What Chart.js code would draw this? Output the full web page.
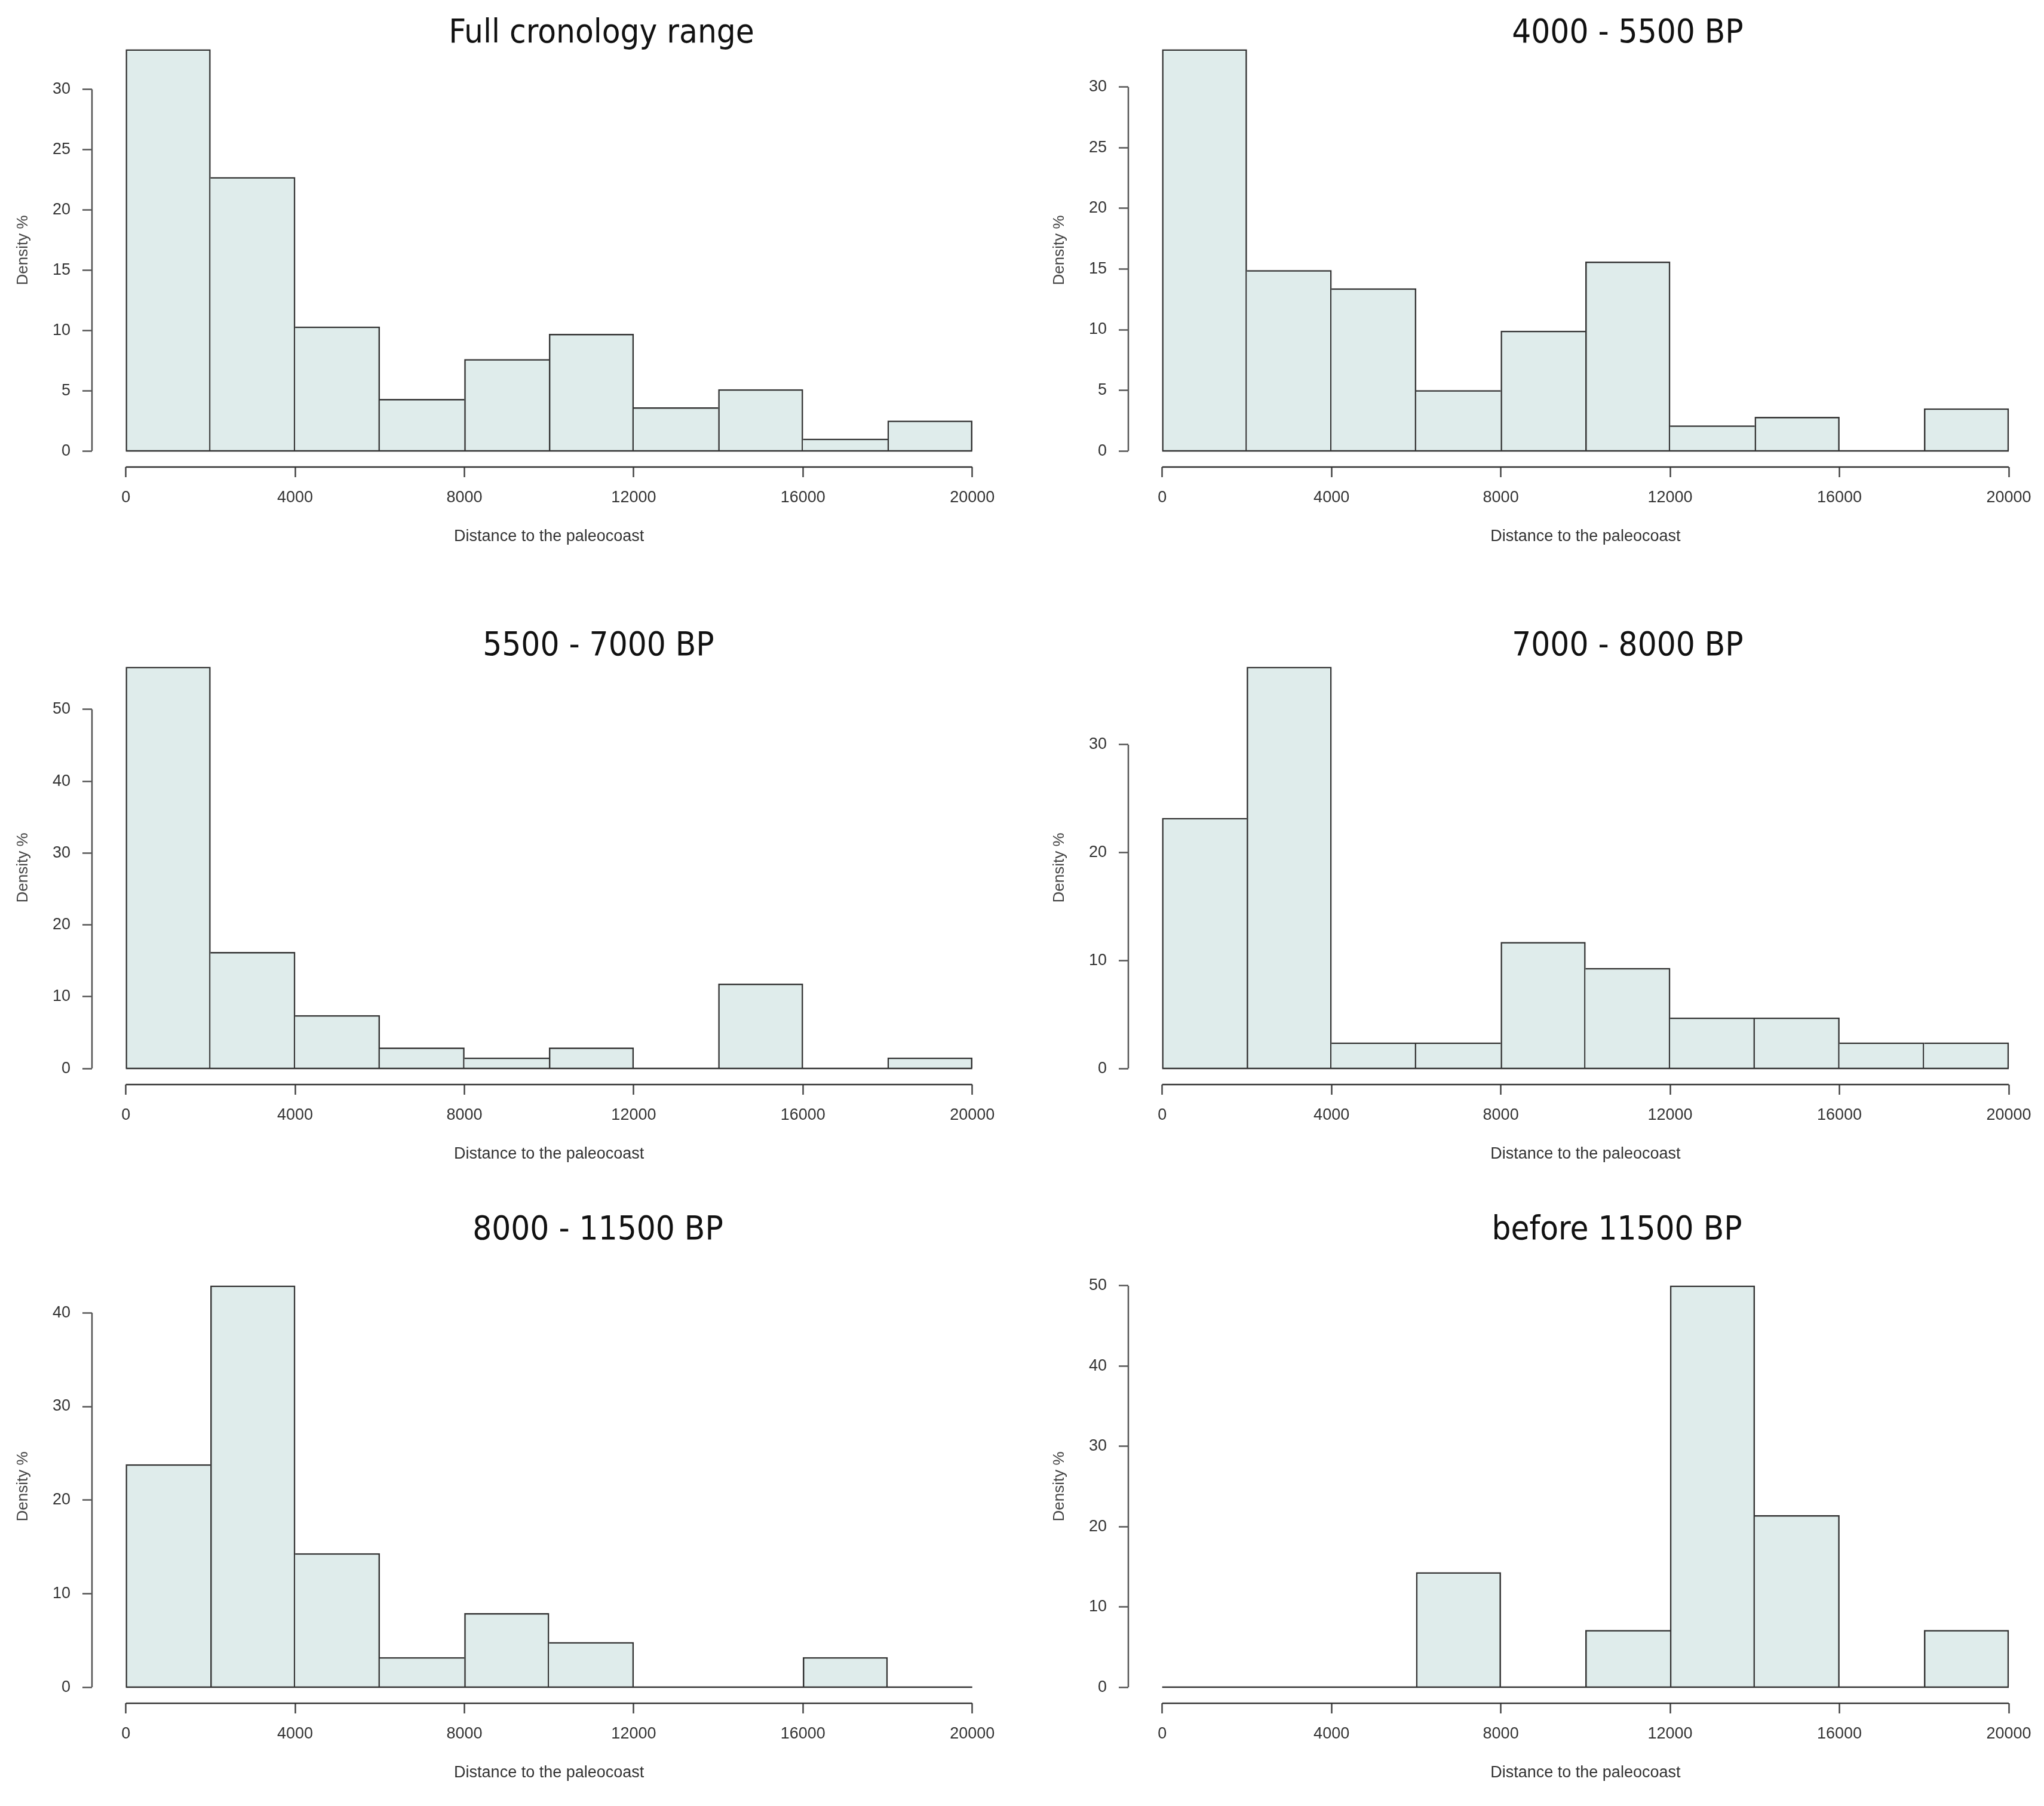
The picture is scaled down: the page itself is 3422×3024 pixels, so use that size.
<!DOCTYPE html>
<html>
<head>
<meta charset="utf-8">
<script src="https://cdn.jsdelivr.net/npm/chart.js@4.4.1/dist/chart.umd.min.js"></script>
<style>
  body { margin: 0; background: #fff; }
  #page { position: relative; width: 3422px; height: 3024px; overflow: hidden; }
  #page canvas { position: absolute; }
  .title {
    position: absolute;
    font-family: "DejaVu Sans Condensed", "DejaVu Sans", sans-serif;
    font-size: 56px;
    line-height: 1;
    color: #111;
    white-space: nowrap;
    transform: translate(-50%, -50%);
  }
</style>
</head>
<body>
<div id="page"></div>
<script>
// histogram bins (distance to the paleocoast)
const breaks = [0, 2000, 4000, 6000, 8000, 10000, 12000, 14000, 16000, 18000, 20000];
const xTicks = [0, 4000, 8000, 12000, 16000, 20000];

const titles = ['Full cronology range', '4000 - 5500 BP', '5500 - 7000 BP',
                '7000 - 8000 BP', '8000 - 11500 BP', 'before 11500 BP'];

// density % per bin
const fullRange   = [33.3, 22.7, 10.3, 4.3, 7.6, 9.7, 3.6, 5.1, 1.0, 2.5];
const bp4000_5500 = [33.1, 14.9, 13.4, 5.0, 9.9, 15.6, 2.1, 2.8, 0, 3.5];
const bp5500_7000 = [55.9, 16.2, 7.4, 2.9, 1.5, 2.9, 0, 11.8, 0, 1.5];
const bp7000_8000 = [23.2, 37.2, 2.4, 2.4, 11.7, 9.3, 4.7, 4.7, 2.4, 2.4];
const bp8000_11500 = [23.8, 42.9, 14.3, 3.2, 7.9, 4.8, 0, 0, 3.2, 0];
const before11500 = [0, 0, 0, 14.3, 0, 7.1, 50.0, 21.4, 0, 7.1];

const yTicks1 = [0, 5, 10, 15, 20, 25, 30];
const yTicks2 = [0, 5, 10, 15, 20, 25, 30];
const yTicks3 = [0, 10, 20, 30, 40, 50];
const yTicks4 = [0, 10, 20, 30];
const yTicks5 = [0, 10, 20, 30, 40];
const yTicks6 = [0, 10, 20, 30, 40, 50];

const series = [fullRange, bp4000_5500, bp5500_7000, bp7000_8000, bp8000_11500, before11500];
const yTicks = [yTicks1, yTicks2, yTicks3, yTicks4, yTicks5, yTicks6];

// page layout
const colLeft = [0, 1711];
const rowTop = [0, 1034, 2070];
const titleX = [1007, 2725, 1002, 2725, 1001, 2707];
const titleY = [52, 1078, 2056];
const canvasW = 1711, canvasH = 954;

const axisFont = { family: 'Liberation Sans, Arial, sans-serif', size: 27 };
const textColor = '#333';

// R style axes: lines only span the tick range, plus the zero line under the bins
const rAxes = {
  id: 'rAxes',
  afterDatasetsDraw(chart, args, opts) {
    const { ctx, chartArea, scales } = chart;
    const x = scales.x, y = scales.y;
    const yt = opts.ticks;
    ctx.save();
    ctx.lineWidth = 2.5;
    ctx.strokeStyle = '#333';
    const y0 = y.getPixelForValue(0);
    ctx.beginPath();
    ctx.moveTo(x.getPixelForValue(breaks[0]), y0);
    ctx.lineTo(x.getPixelForValue(breaks[breaks.length - 1]), y0);
    ctx.stroke();

    ctx.beginPath();
    ctx.moveTo(x.getPixelForValue(xTicks[0]), chartArea.bottom);
    ctx.lineTo(x.getPixelForValue(xTicks[xTicks.length - 1]), chartArea.bottom);
    ctx.stroke();

    ctx.strokeStyle = '#555';
    ctx.beginPath();
    ctx.moveTo(chartArea.left, y.getPixelForValue(yt[0]));
    ctx.lineTo(chartArea.left, y.getPixelForValue(yt[yt.length - 1]));
    ctx.stroke();
    ctx.restore();
  }
};

const page = document.getElementById('page');

series.forEach((vals, k) => {
  const col = k % 2, row = Math.floor(k / 2);

  const title = document.createElement('div');
  title.className = 'title';
  title.textContent = titles[k];
  title.style.left = titleX[k] + 'px';
  title.style.top = titleY[row] + 'px';
  page.appendChild(title);

  const canvas = document.createElement('canvas');
  canvas.width = canvasW;
  canvas.height = canvasH;
  canvas.style.left = colLeft[col] + 'px';
  canvas.style.top = rowTop[row] + 'px';
  canvas.style.width = canvasW + 'px';
  canvas.style.height = canvasH + 'px';
  page.appendChild(canvas);

  const top = Math.max(...vals);
  const yt = yTicks[k];
  const points = vals.map((v, i) => ({ x: (breaks[i] + breaks[i + 1]) / 2, y: v }));

  new Chart(canvas.getContext('2d'), {
    type: 'bar',
    data: {
      datasets: [{
        data: points,
        backgroundColor: '#dfeceb',
        borderColor: '#333',
        borderSkipped: false,
        barPercentage: 1,
        categoryPercentage: 1,
        borderWidth: (c) => {
          const i = c.dataIndex;
          const cur = vals[i];
          const prev = i > 0 ? vals[i - 1] : 0;
          const next = i < vals.length - 1 ? vals[i + 1] : 0;
          return { top: 2.5, bottom: 0, left: prev < cur ? 2.5 : 0, right: next <= cur ? 2.5 : 0 };
        }
      }]
    },
    options: {
      responsive: false,
      animation: false,
      devicePixelRatio: 1,
      layout: { padding: { left: col ? 24 : 0, right: col ? 2.3 : 26.6, top: 56, bottom: 39 } },
      plugins: {
        legend: { display: false },
        tooltip: { enabled: false },
        rAxes: { ticks: yt }
      },
      scales: {
        x: {
          type: 'linear',
          offset: false,
          min: -800,
          max: 20800,
          afterBuildTicks: (s) => { s.ticks = xTicks.map(v => ({ value: v })); },
          afterFit: (s) => { s.height = 133; },
          border: { display: false },
          grid: { offset: false, drawOnChartArea: false, tickLength: 17, tickWidth: 2.5, tickColor: '#444' },
          ticks: { callback: (v) => String(v), font: axisFont, color: textColor, padding: 18, maxRotation: 0, autoSkip: false },
          title: { display: true, text: 'Distance to the paleocoast', font: axisFont, color: textColor, padding: 0 }
        },
        y: {
          min: -0.04 * top,
          max: 1.04 * top,
          afterBuildTicks: (s) => { s.ticks = yt.map(v => ({ value: v })); },
          afterFit: (s) => { s.width = 154; },
          border: { display: false },
          grid: { drawOnChartArea: false, tickLength: 16, tickWidth: 2.5, tickColor: '#555' },
          ticks: { font: axisFont, color: textColor, padding: 20 },
          title: { display: true, text: 'Density %', font: { family: axisFont.family, size: 26 }, color: '#444', padding: { top: 23, bottom: 0 } }
        }
      }
    },
    plugins: [rAxes]
  });
});
</script>
</body>
</html>
